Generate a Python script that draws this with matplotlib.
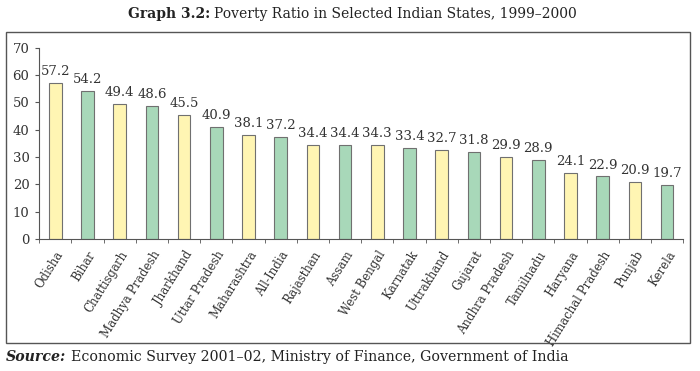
import matplotlib
matplotlib.use("Agg")
import matplotlib.pyplot as plt
from matplotlib.patches import Rectangle

# Data
states = ['Odisha', 'Bihar', 'Chattisgarh', 'Madhya Pradesh', 'Jharkhand',
          'Uttar Pradesh', 'Maharashtra', 'All-India', 'Rajasthan', 'Assam',
          'West Bengal', 'Karnatak', 'Uttrakhand', 'Gujarat', 'Andhra Pradesh',
          'Tamilnadu', 'Haryana', 'Himachal Pradesh', 'Punjab', 'Kerela']
poverty = [57.2, 54.2, 49.4, 48.6, 45.5, 40.9, 38.1, 37.2, 34.4, 34.4,
           34.3, 33.4, 32.7, 31.8, 29.9, 28.9, 24.1, 22.9, 20.9, 19.7]
y_ticks = [0, 10, 20, 30, 40, 50, 60, 70]

yellow = '#fff5b3'
green = '#a8d8b9'
colors = [yellow if i % 2 == 0 else green for i in range(len(states))]

plt.rcParams['font.family'] = 'DejaVu Serif'

fig = plt.figure(figsize=(7, 3.71), dpi=100)
ax = fig.add_axes([0.056, 0.356, 0.92, 0.515])

x = range(len(states))
ax.bar(x, poverty, width=0.39, color=colors, edgecolor='#707070', linewidth=0.8)

for i, v in enumerate(poverty):
    ax.text(i, v + 1.8, f'{v:.1f}', ha='center', va='bottom', fontsize=9.5, color='#333333')

ax.set_xlim(-0.5, len(states) - 0.5)
ax.set_ylim(0, 70)
ax.set_yticks(y_ticks)
ax.tick_params(axis='y', labelsize=9.5, length=3, color='#555555', labelcolor='#333333', pad=4)

# category labels, with small tick marks at the boundaries
ax.set_xticks(list(x))
ax.set_xticklabels(states, rotation=58, ha='right', rotation_mode='anchor', fontsize=8.5, color='#333333')
ax.tick_params(axis='x', length=0, pad=7)
ax.set_xticks([i - 0.5 for i in range(len(states) + 1)], minor=True)
ax.tick_params(axis='x', which='minor', length=3, color='#555555')

for side in ['top', 'right']:
    ax.spines[side].set_visible(False)
for side in ['left', 'bottom']:
    ax.spines[side].set_color('#555555')
    ax.spines[side].set_linewidth(0.8)

# outer frame
fig.patches.append(Rectangle((0.0086, 0.0755), 0.977, 0.838, transform=fig.transFigure,
                             fill=False, edgecolor='#555555', linewidth=1.0))

renderer = fig.canvas.get_renderer()


def two_part(xf, yf, bold_txt, rest_txt, size, italic=False):
    t1 = fig.text(xf, yf, bold_txt, fontweight='bold', fontstyle='italic' if italic else 'normal',
                  fontsize=size, va='center', ha='left', color='#222222')
    bb = t1.get_window_extent(renderer=renderer)
    x2 = (bb.x1 + 4) / fig.bbox.width
    fig.text(x2, yf, rest_txt, fontsize=size, va='center', ha='left', color='#222222')


two_part(0.183, 0.962, 'Graph 3.2:', 'Poverty Ratio in Selected Indian States, 1999\u20132000', 10)
two_part(0.009, 0.037, 'Source:', 'Economic Survey 2001\u201302, Ministry of Finance, Government of India',
         10.2, italic=True)

fig.savefig('out.png', dpi=100)
